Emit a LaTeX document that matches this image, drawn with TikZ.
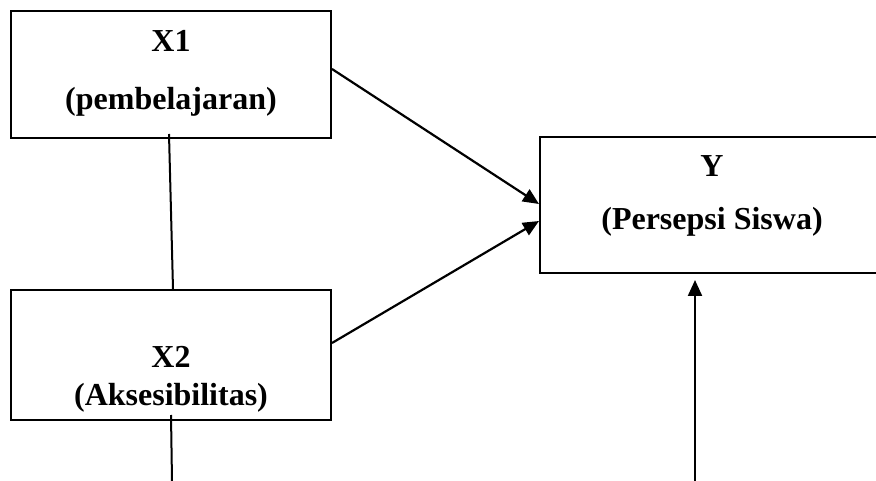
\documentclass[tikz,border=0pt]{standalone}
\usepackage{fontspec}
\setmainfont{Liberation Serif}
\usetikzlibrary{arrows.meta}
\begin{document}
\begin{tikzpicture}[x=1pt,y=-1pt,
  box/.style={draw,line width=2pt,inner sep=0pt,minimum width=#1},
  lbl/.style={font=\fontsize{32}{38}\selectfont\bfseries,anchor=base,inner sep=0pt},
  conn/.style={line width=2pt},
  arr/.style={line width=2.2pt,-{Triangle[length=16pt,width=14pt]}}]
\useasboundingbox (0,0) rectangle (876,481);
\clip (0,0) rectangle (876,481);
\node[box=320pt,minimum height=127pt] (x1) at (171,74.5) {};
\node[box=320pt,minimum height=130pt] (x2) at (171,355) {};
\node[box=344pt,minimum height=136pt] (y) at (712,205) {};
\node[lbl] (x1a) at (171,52) {X1};
\node[lbl] (x1b) at (171,110) {(pembelajaran)};
\node[lbl] (x2a) at (171,367) {X2};
\node[lbl] (x2b) at (171,405) {(Aksesibilitas)};
\node[lbl] (ya) at (712,177) {Y};
\node[lbl] (yb) at (712,230) {(Persepsi Siswa)};
\coordinate (b1) at (172,481);
\coordinate (b2) at (695,481);
\draw[conn] ([xshift=-2pt,yshift=5pt]x1.south) -- ([xshift=2pt]x2.north);
\draw[conn] ([yshift=6pt]x2.south) -- (b1);
\draw[arr] ([yshift=5.5pt]x1.east) -- ([yshift=1pt]y.west);
\draw[arr] ([yshift=12pt]x2.east) -- ([yshift=-16pt]y.west);
\draw[arr] (b2) -- ([xshift=-17pt,yshift=-6pt]y.south);
\end{tikzpicture}
\end{document}
